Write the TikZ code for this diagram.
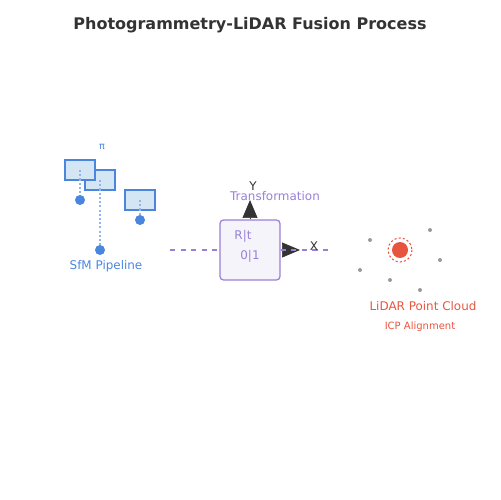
\documentclass[tikz,border=0pt]{standalone}
\usepackage{fontspec}
\setmainfont{DejaVu Sans}
\usetikzlibrary{arrows.meta}
\definecolor{sfmblue}{HTML}{4A86DE}
\definecolor{camfill}{HTML}{D4E5F4}
\definecolor{tfpurple}{HTML}{9B7FD6}
\definecolor{boxfill}{HTML}{F4F4FA}
\definecolor{lidarred}{HTML}{E8553F}
\definecolor{axisdark}{HTML}{333333}
\tikzset{
  camera/.style={draw=sfmblue, fill=camfill, line width=1pt, minimum width=0.6cm, minimum height=0.4cm, inner sep=0pt},
  raypoint/.style={circle, fill=sfmblue, minimum size=0.2cm, inner sep=0pt},
  ray/.style={sfmblue!60, dash pattern=on 1.2pt off 1.2pt, line width=0.8pt},
  cloudpt/.style={circle, fill=gray!80, minimum size=0.08cm, inner sep=0pt},
  lbl/.style={font=\fontsize{6.8}{8}\selectfont},
  axisarrow/.style={axisdark, -{Triangle[length=0.36cm, width=0.3cm]}}
}

\begin{document}
\begin{tikzpicture}[x=0.02cm, y=-0.02cm]
    \useasboundingbox (0,0) rectangle (500,500);

    % Title
    \node[font=\bfseries\fontsize{9.1}{11}\selectfont, text=axisdark] (title) at (250,25) {Photogrammetry-LiDAR Fusion Process};

    % Cameras of the SfM pipeline
    \node[camera] (cam2) at (100,180) {};
    \node[camera] (cam1) at (80,170) {};
    \node[camera] (cam3) at (140,200) {};
    \node[raypoint] (pt1) at (80,200) {};
    \node[raypoint] (pt2) at (100,250) {};
    \node[raypoint] (pt3) at (140,220) {};
    \draw[ray] (cam1.center) -- (pt1);
    \draw[ray] (cam2.center) -- (pt2);
    \draw[ray] (cam3.center) -- (pt3);
    \node[text=sfmblue, font=\fontsize{5.5}{7}\selectfont] (pi) at (102,147) {π};
    \node[lbl, text=sfmblue] (sfm) at (106,266) {SfM Pipeline};

    % Transformation
    \coordinate (left) at (170,250);
    \coordinate (right) at (330,250);
    \coordinate (ytip) at (250,200);
    \coordinate (xtip) at (300,250);
    \node[draw=tfpurple, fill=boxfill, line width=0.7pt, rounded corners=2pt, minimum size=1.2cm] (tbox) at (250,250) {};
    \draw[axisarrow] (tbox.north) -- (ytip);
    \draw[axisarrow] (tbox.east) -- (xtip);
    \draw[tfpurple, dashed, line width=0.7pt] (left) -- (tbox.west);
    \draw[tfpurple, dashed, line width=0.7pt] (tbox.east) -- (right);
    \node[lbl, text=tfpurple] (rt) at (243,236) {R|t};
    \node[lbl, text=tfpurple] (zo) at (250,256) {0|1};
    \node[lbl, text=axisdark] (ylbl) at (253,186) {Y};
    \node[lbl, text=axisdark] (xlbl) at (314,246) {X};
    \node[lbl, text=tfpurple] (tlbl) at (275,196) {Transformation};

    % LiDAR point cloud
    \node[circle, fill=lidarred, minimum size=0.32cm, inner sep=0pt] (lidar) at (400,250) {};
    \draw[lidarred, dash pattern=on 1.2pt off 1.2pt, line width=0.6pt] (lidar.center) circle (12);
    \foreach \px/\py in {370/240, 430/230, 440/260, 360/270, 390/280, 420/290}
        \node[cloudpt] at (\px,\py) {};
    \node[lbl, text=lidarred] (lidarlbl) at (423,306) {LiDAR Point Cloud};
    \node[text=lidarred, font=\fontsize{5.7}{7}\selectfont] (icp) at (420,327) {ICP Alignment};
\end{tikzpicture}
\end{document}
